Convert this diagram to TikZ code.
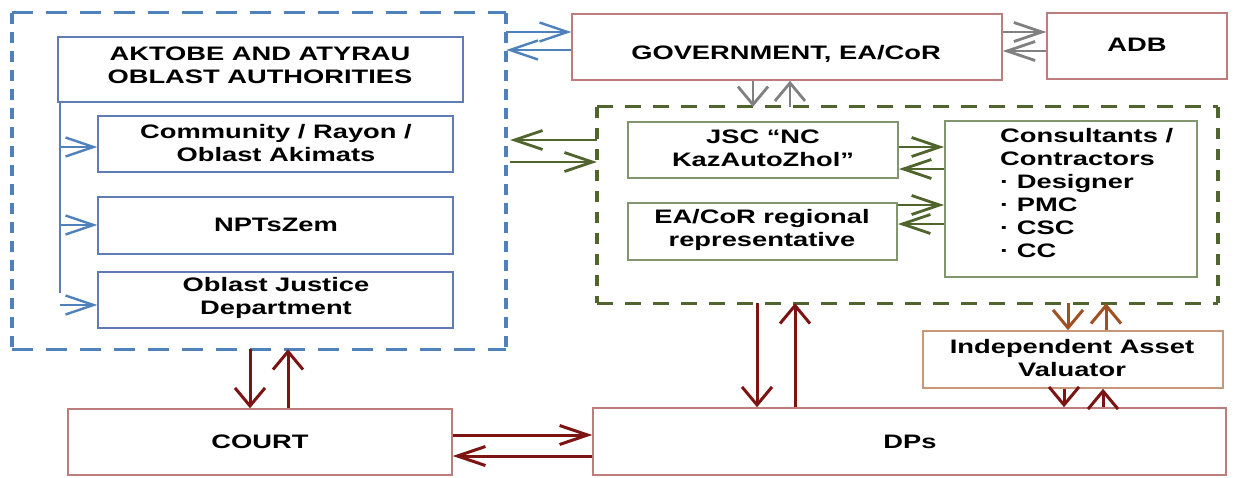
\documentclass[tikz,border=0pt]{standalone}
\usepackage{fontspec}
\setmainfont{Liberation Sans}[FakeStretch=1.4]
\usetikzlibrary{arrows.meta}
\definecolor{bl}{RGB}{79,129,189}
\definecolor{blb}{RGB}{95,125,180}
\definecolor{gd}{RGB}{80,100,45}
\definecolor{gb}{RGB}{130,150,110}
\definecolor{rb}{RGB}{190,125,125}
\definecolor{tb}{RGB}{200,150,120}
\definecolor{dr}{RGB}{125,20,20}
\definecolor{br}{RGB}{160,80,35}
\definecolor{gr}{RGB}{128,128,128}
\tikzset{
  frame/.style={draw, inner sep=0, line width=1.5pt},
  bluebox/.style={frame, draw=blb},
  greenbox/.style={frame, draw=gb, line width=2pt},
  redbox/.style={frame, draw=rb},
  tanbox/.style={frame, draw=tb},
  grpbox/.style={inner sep=0},
  bdashH/.style={draw=bl, line width=3.3pt, dash pattern=on 21pt off 13pt},
  bdashV/.style={draw=bl, line width=3.8pt, dash pattern=on 11pt off 8pt},
  gdashH/.style={draw=gd, line width=3.3pt, dash pattern=on 16pt off 12pt},
  gdashV/.style={draw=gd, line width=3.8pt, dash pattern=on 11pt off 10pt},
  txt/.style={font=\bfseries\fontsize{19.5}{23}\selectfont, align=center, inner sep=0, text=black},
  hA/.style={-{Straight Barb[length=28pt,width=19pt]}},
  vA/.style={-{Straight Barb[length=18pt,width=30pt]}},
  bArr/.style={draw=bl, line width=2.4pt},
  gArr/.style={draw=gr, line width=2.8pt},
  grArr/.style={draw=gd, line width=2.8pt},
  rArr/.style={draw=dr, line width=3pt},
  brArr/.style={draw=br, line width=3pt},
}
\begin{document}
\begin{tikzpicture}[x=1pt,y=-1pt]
\useasboundingbox (0,0) rectangle (1238,477);
% group frames
\node[grpbox, minimum width=494, minimum height=336] (grpA) at (259,181) {};
\node[grpbox, minimum width=621, minimum height=196] (grpB) at (907.5,205) {};
\draw[bdashH] (grpA.north west) -- (grpA.north east);
\draw[bdashH] (grpA.south west) -- (grpA.south east);
\draw[bdashV] (grpA.north west) -- (grpA.south west);
\draw[bdashV] (grpA.north east) -- (grpA.south east);
\draw[gdashH] (grpB.north west) -- (grpB.north east);
\draw[gdashH] (grpB.south west) -- (grpB.south east);
\draw[gdashV] (grpB.north west) -- (grpB.south west);
\draw[gdashV] (grpB.north east) -- (grpB.south east);
% blue boxes
\node[bluebox, minimum width=405, minimum height=65] (ak) at (260.5,69.5) {};
\node[bluebox, minimum width=355, minimum height=56] (com) at (275.5,144) {};
\node[bluebox, minimum width=355, minimum height=57] (npt) at (275.5,225.5) {};
\node[bluebox, minimum width=355, minimum height=56] (jus) at (275.5,300) {};
% top boxes
\node[redbox, minimum width=430, minimum height=66] (gov) at (787,47) {};
\node[redbox, minimum width=180, minimum height=66] (adb) at (1137,46) {};
% green boxes
\node[greenbox, minimum width=270, minimum height=56] (jsc) at (763,150) {};
\node[greenbox, minimum width=269, minimum height=57] (reg) at (762.5,231.5) {};
\node[greenbox, minimum width=252, minimum height=156] (con) at (1071,199) {};
% bottom boxes
\node[tanbox, minimum width=300, minimum height=57] (iav) at (1073,359.5) {};
\node[redbox, minimum width=384, minimum height=66] (court) at (260,442) {};
\node[redbox, minimum width=633, minimum height=67] (dps) at (909.5,441.5) {};
% texts
\node[txt] (akt) at (260,65) {AKTOBE AND ATYRAU\\OBLAST AUTHORITIES};
\node[txt] (comt) at (276,143) {Community / Rayon /\\Oblast Akimats};
\node[txt] (nptt) at (276,225) {NPTsZem};
\node[txt] (just) at (276,298) {Oblast Justice\\Department};
\node[txt] (govt) at (786,54) {GOVERNMENT, EA/CoR};
\node[txt] (adbt) at (1137,45) {ADB};
\node[txt] (jsct) at (763,148) {JSC “NC\\KazAutoZhol”};
\node[txt] (regt) at (762,230) {EA/CoR regional\\representative};
\node[txt, align=left, anchor=north west] (cont) at (1000,128) {Consultants /\\Contractors\\· Designer\\· PMC\\· CSC\\· CC};
\node[txt] (iavt) at (1072,358) {Independent Asset\\Valuator};
\node[txt] (courtt) at (260,442) {COURT};
\node[txt] (dpst) at (910,442) {DPs};
% blue internal connectors
\coordinate (spine) at (60,305);
\draw[draw=blb, line width=1.5pt] (ak.south -| spine) -- (60,293);
\draw[bArr,hA] (spine |- 0,147) -- (com.west |- 0,147);
\draw[bArr,hA] (spine |- 0,225) -- (npt.west |- 0,225);
\draw[bArr,hA] (spine) -- (jus.west |- spine);
% blue group <-> government
\draw[bArr,hA] (grpA.east |- 0,32) -- (gov.west |- 0,32);
\draw[bArr,hA] (gov.west |- 0,50) -- (grpA.east |- 0,50);
% gray
\draw[gArr,hA] (gov.east |- 0,32) -- (adb.west |- 0,32);
\draw[gArr,hA] (adb.west |- 0,51) -- (gov.east |- 0,51);
\draw[gArr,vA] (gov.south -| 753,0) -- (grpB.north -| 753,0);
\draw[gArr,vA] (grpB.north -| 790,0) -- (gov.south -| 790,0);
% green
\draw[grArr,hA,shorten >=4pt] (grpB.west |- 0,140) -- (grpA.east |- 0,140);
\draw[grArr,hA,shorten <=4pt] (grpA.east |- 0,162) -- (grpB.west |- 0,162);
\draw[grArr,hA] (jsc.east |- 0,147) -- (con.west |- 0,147);
\draw[grArr,hA] (con.west |- 0,169) -- (jsc.east |- 0,169);
\draw[grArr,hA] (reg.east |- 0,205) -- (con.west |- 0,205);
\draw[grArr,hA] (con.west |- 0,224) -- (reg.east |- 0,224);
% dark red / brown
\draw[rArr,vA] (grpA.south -| 250,0) -- (court.north -| 250,0);
\draw[rArr,vA] (court.north -| 288,0) -- (grpA.south -| 288,0);
\draw[rArr,hA] (court.east |- 0,435) -- (dps.west |- 0,435);
\draw[rArr,hA] (dps.west |- 0,456) -- (court.east |- 0,456);
\draw[rArr,vA] (grpB.south -| 757,0) -- (dps.north -| 757,0);
\draw[rArr,vA] (dps.north -| 795,0) -- (grpB.south -| 795,0);
\draw[brArr,vA] (grpB.south -| 1068,0) -- (iav.north -| 1068,0);
\draw[brArr,vA] (iav.north -| 1106,0) -- (grpB.south -| 1106,0);
\draw[rArr,vA] (iav.south -| 1064,0) -- (dps.north -| 1064,0);
\draw[rArr,vA] (dps.north -| 1103,0) -- (iav.south -| 1103,0);
\end{tikzpicture}
\end{document}
